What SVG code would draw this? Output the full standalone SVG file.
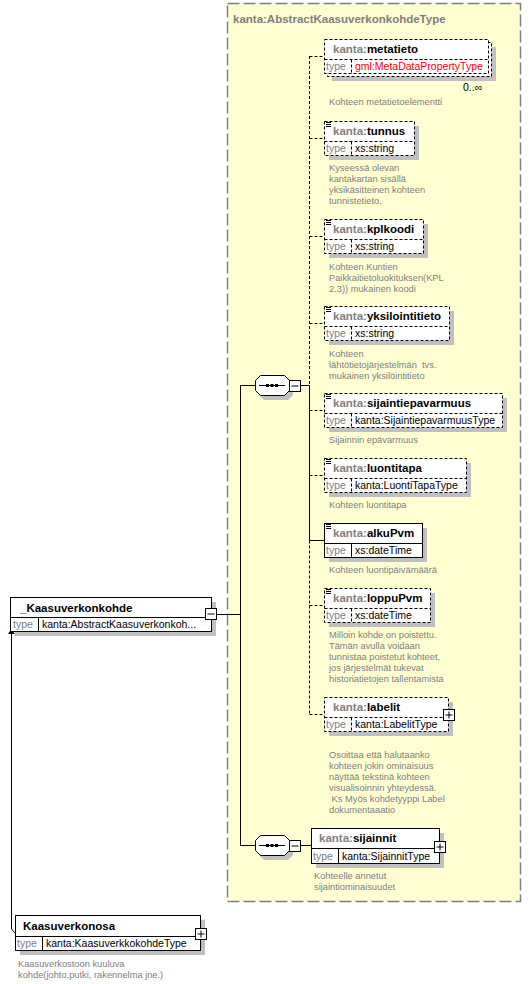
<svg xmlns="http://www.w3.org/2000/svg" width="531" height="984" viewBox="0 0 531 984">
<defs>
<style>
.bx{fill:#fff;stroke:#000;stroke-width:1}
.ds{stroke-dasharray:3,2}
.sh{fill:#c0c0c0}
.ln{stroke:#000;stroke-width:1;fill:none}
.ttl{font-family:"Liberation Sans",Arial,sans-serif;font-size:11.5px;font-weight:bold;fill:#000}
.ns{fill:#808080}
.tp{font-family:"Liberation Sans",Arial,sans-serif;font-size:10.5px;fill:#808080}
.tv{font-family:"Liberation Sans",Arial,sans-serif;font-size:10.5px;fill:#000}
.doc{font-family:"Liberation Sans",Arial,sans-serif;font-size:9.3px;fill:#808080;white-space:pre}
</style>
</defs>
<rect width="531" height="984" fill="#fff"/>

<g id="complexType">
<rect x="227.5" y="3.5" width="293" height="898" fill="#ffffd2" stroke="#808080" stroke-width="1.5" stroke-dasharray="12,4"/>
<text x="233" y="23" class="ttl ns">kanta:AbstractKaasuverkonkohdeType</text>
</g>

<g id="connectors">
<path class="ln" d="M216 614.5H240.5M240.5 385V845.5M240 385.5H255M240 845.5H255M300 385.5H309.5M300 845.5H311"/>
<path class="ln" d="M309.5 56V385.5" stroke-dasharray="3,2"/>
<path class="ln" d="M309.5 385.5V540.5H324"/>
<path class="ln" d="M309.5 540.5V714.5" stroke-dasharray="3,2"/>
<path class="ln" stroke-dasharray="3,2" d="M309.5 56.5H324M309.5 138.5H324M309.5 236.5H324M309.5 323.5H324M309.5 410.5H324M309.5 475.5H324M309.5 605.5H324M309.5 714.5H324"/>
<path class="ln" d="M11.5 634V929L15 933"/>
<polygon points="11.5,629 8,634 15,634" fill="#000"/>
</g>

<g id="Kaasuverkonkohde">
<rect class="sh" x="15" y="602" width="201" height="34"/>
<rect class="bx" x="10.5" y="597.5" width="201" height="34"/>
<path class="ln" d="M10.5 617.5H211.5M38.5 617.5V631.5"/>
<text x="20" y="612" class="ttl">_Kaasuverkonkohde</text>
<text x="13" y="628" class="tp">type</text>
<text x="42" y="628" class="tv">kanta:AbstractKaasuverkonkoh...</text>
<rect class="bx" x="205.5" y="608.5" width="11" height="11"/>
<path class="ln" d="M207.5 614H214.5"/>
</g>

<g id="seq1">
<polygon class="sh" points="264,380 288,380 293,385 293,395 288,400 264,400 259,395 259,385"/>
<polygon class="bx" points="260.5,375.5 284.5,375.5 289.5,380.5 289.5,390.5 284.5,395.5 260.5,395.5 255.5,390.5 255.5,380.5"/>
<path class="ln" d="M259 385.5H285"/>
<rect x="266" y="384" width="3" height="3" fill="#000"/>
<rect x="270.5" y="384" width="3" height="3" fill="#000"/>
<rect x="275" y="384" width="3" height="3" fill="#000"/>
<rect class="bx" x="289.5" y="380.5" width="11" height="11"/>
<path class="ln" d="M291.5 386H298.5"/>
</g>

<g id="seq2">
<polygon class="sh" points="264,840 288,840 293,845 293,855 288,860 264,860 259,855 259,845"/>
<polygon class="bx" points="260.5,835.5 284.5,835.5 289.5,840.5 289.5,850.5 284.5,855.5 260.5,855.5 255.5,850.5 255.5,840.5"/>
<path class="ln" d="M259 845.5H285"/>
<rect x="266" y="844" width="3" height="3" fill="#000"/>
<rect x="270.5" y="844" width="3" height="3" fill="#000"/>
<rect x="275" y="844" width="3" height="3" fill="#000"/>
<rect class="bx" x="289.5" y="840.5" width="11" height="11"/>
<path class="ln" d="M291.5 846H298.5"/>
</g>

<g id="metatieto">
<rect class="sh" x="332" y="47" width="164" height="34"/>
<rect class="bx ds" x="327.5" y="42.5" width="164" height="34"/>
<rect class="bx ds" x="324.5" y="39.5" width="164" height="34"/>
<path class="ln ds" d="M324.5 59.5H488.5M351.5 59.5V73.5"/>
<text x="333" y="53" class="ttl"><tspan class="ns">kanta:</tspan>metatieto</text>
<text x="326" y="70" class="tp">type</text>
<text x="355" y="70" class="tv" fill="#ff0000" style="fill:#ff0000">gml:MetaDataPropertyType</text>
<text x="463" y="91" class="tv">0..∞</text>
<text x="329" y="105" class="doc">Kohteen metatietoelementti</text>
</g>

<g id="tunnus">
<rect class="sh" x="329" y="126" width="90" height="34"/>
<rect class="bx ds" x="324.5" y="121.5" width="90" height="34"/>
<path class="ln ds" d="M324.5 141.5H414.5M351.5 141.5V155.5"/>
<path class="ln" d="M326 122.5H331M326 124.5H331M326 126.5H331"/>
<text x="333" y="135" class="ttl"><tspan class="ns">kanta:</tspan>tunnus</text>
<text x="326" y="152" class="tp">type</text>
<text x="355" y="152" class="tv">xs:string</text>
<text class="doc"><tspan x="329" y="171">Kyseessä olevan</tspan><tspan x="329" y="182">kantakartan sisällä</tspan><tspan x="329" y="193">yksikäsitteinen kohteen</tspan><tspan x="329" y="204">tunnistetieto.</tspan></text>
</g>

<g id="kplkoodi">
<rect class="sh" x="329" y="224" width="99" height="34"/>
<rect class="bx ds" x="324.5" y="219.5" width="99" height="34"/>
<path class="ln ds" d="M324.5 239.5H423.5M351.5 239.5V253.5"/>
<path class="ln" d="M326 220.5H331M326 222.5H331M326 224.5H331"/>
<text x="333" y="233" class="ttl"><tspan class="ns">kanta:</tspan>kplkoodi</text>
<text x="326" y="250" class="tp">type</text>
<text x="355" y="250" class="tv">xs:string</text>
<text class="doc"><tspan x="329" y="270">Kohteen Kuntien</tspan><tspan x="329" y="281">Paikkaitietoluokituksen(KPL</tspan><tspan x="329" y="292">2.3)) mukainen koodi</tspan></text>
</g>

<g id="yksilointitieto">
<rect class="sh" x="329" y="311" width="125" height="34"/>
<rect class="bx ds" x="324.5" y="306.5" width="125" height="34"/>
<path class="ln ds" d="M324.5 326.5H449.5M351.5 326.5V340.5"/>
<path class="ln" d="M326 307.5H331M326 309.5H331M326 311.5H331"/>
<text x="333" y="320" class="ttl"><tspan class="ns">kanta:</tspan>yksilointitieto</text>
<text x="326" y="337" class="tp">type</text>
<text x="355" y="337" class="tv">xs:string</text>
<text class="doc"><tspan x="329" y="357">Kohteen</tspan><tspan x="329" y="368">lähtötietojärjestelmän  tvs.</tspan><tspan x="329" y="379">mukainen yksilöintitieto</tspan></text>
</g>

<g id="sijaintiepavarmuus">
<rect class="sh" x="329" y="398" width="178" height="34"/>
<rect class="bx ds" x="324.5" y="393.5" width="178" height="34"/>
<path class="ln ds" d="M324.5 413.5H502.5M351.5 413.5V427.5"/>
<path class="ln" d="M326 394.5H331M326 396.5H331M326 398.5H331"/>
<text x="333" y="407" class="ttl"><tspan class="ns">kanta:</tspan>sijaintiepavarmuus</text>
<text x="326" y="424" class="tp">type</text>
<text x="355" y="424" class="tv">kanta:SijaintiepavarmuusType</text>
<text x="329" y="443" class="doc">Sijainnin epävarmuus</text>
</g>

<g id="luontitapa">
<rect class="sh" x="329" y="463" width="142" height="34"/>
<rect class="bx ds" x="324.5" y="458.5" width="142" height="34"/>
<path class="ln ds" d="M324.5 478.5H466.5M351.5 478.5V492.5"/>
<path class="ln" d="M326 459.5H331M326 461.5H331M326 463.5H331"/>
<text x="333" y="472" class="ttl"><tspan class="ns">kanta:</tspan>luontitapa</text>
<text x="326" y="489" class="tp">type</text>
<text x="355" y="489" class="tv">kanta:LuontiTapaType</text>
<text x="329" y="508" class="doc">Kohteen luontitapa</text>
</g>

<g id="alkuPvm">
<rect class="sh" x="329" y="528" width="98" height="34"/>
<rect class="bx" x="324.5" y="523.5" width="98" height="34"/>
<path class="ln" d="M324.5 543.5H422.5M351.5 543.5V557.5"/>
<path class="ln" d="M326 524.5H331M326 526.5H331M326 528.5H331"/>
<text x="333" y="537" class="ttl"><tspan class="ns">kanta:</tspan>alkuPvm</text>
<text x="326" y="554" class="tp">type</text>
<text x="355" y="554" class="tv">xs:dateTime</text>
<text x="329" y="573" class="doc">Kohteen luontipäivämäärä</text>
</g>

<g id="loppuPvm">
<rect class="sh" x="329" y="593" width="106" height="34"/>
<rect class="bx ds" x="324.5" y="588.5" width="106" height="34"/>
<path class="ln ds" d="M324.5 608.5H430.5M351.5 608.5V622.5"/>
<path class="ln" d="M326 589.5H331M326 591.5H331M326 593.5H331"/>
<text x="333" y="602" class="ttl"><tspan class="ns">kanta:</tspan>loppuPvm</text>
<text x="326" y="619" class="tp">type</text>
<text x="355" y="619" class="tv">xs:dateTime</text>
<text class="doc"><tspan x="329" y="638">Milloin kohde on poistettu.</tspan><tspan x="329" y="649">Tämän avulla voidaan</tspan><tspan x="329" y="660">tunnistaa poistetut kohteet,</tspan><tspan x="329" y="671">jos järjestelmät tukevat</tspan><tspan x="329" y="682">historiatietojen tallentamista</tspan></text>
</g>

<g id="labelit">
<rect class="sh" x="329" y="702" width="124" height="34"/>
<rect class="bx ds" x="324.5" y="697.5" width="124" height="34"/>
<path class="ln ds" d="M324.5 717.5H448.5M351.5 717.5V731.5"/>
<text x="333" y="711" class="ttl"><tspan class="ns">kanta:</tspan>labelit</text>
<text x="326" y="728" class="tp">type</text>
<text x="355" y="728" class="tv">kanta:LabelitType</text>
<rect class="bx" x="443.5" y="709.5" width="11" height="11"/>
<path class="ln" d="M445.5 715H452.5M449 711.5V718.5"/>
<text class="doc"><tspan x="329" y="758">Osoittaa että halutaanko</tspan><tspan x="329" y="769">kohteen jokin ominaisuus</tspan><tspan x="329" y="780">näyttää tekstinä kohteen</tspan><tspan x="329" y="791">visualisoinnin yhteydessä.</tspan><tspan x="329" y="802"> Ks Myös kohdetyyppi Label</tspan><tspan x="329" y="813">dokumentaaatio</tspan></text>
</g>

<g id="sijainnit">
<rect class="sh" x="316" y="833" width="128" height="35"/>
<rect class="bx" x="311.5" y="828.5" width="128" height="35"/>
<path class="ln" d="M311.5 848.5H439.5M338.5 848.5V863.5"/>
<text x="319" y="842" class="ttl"><tspan class="ns">kanta:</tspan>sijainnit</text>
<text x="313" y="860" class="tp">type</text>
<text x="342" y="860" class="tv">kanta:SijainnitType</text>
<rect class="bx" x="434.5" y="841.5" width="11" height="11"/>
<path class="ln" d="M436.5 847H443.5M440 843.5V850.5"/>
<text class="doc"><tspan x="314" y="879">Kohteelle annetut</tspan><tspan x="314" y="890">sijaintiominaisuudet</tspan></text>
</g>

<g id="Kaasuverkonosa">
<rect class="sh" x="20" y="920" width="185" height="35"/>
<rect class="bx" x="15.5" y="915.5" width="185" height="35"/>
<path class="ln" d="M15.5 936.5H200.5M42.5 936.5V950.5"/>
<text x="23" y="930" class="ttl">Kaasuverkonosa</text>
<text x="17" y="947" class="tp">type</text>
<text x="46" y="947" class="tv">kanta:KaasuverkkokohdeType</text>
<rect class="bx" x="195.5" y="928.5" width="11" height="11"/>
<path class="ln" d="M197.5 934H204.5M201 930.5V937.5"/>
<text class="doc"><tspan x="18" y="967">Kaasuverkostoon kuuluva</tspan><tspan x="18" y="978">kohde(johto,putki, rakennelma jne.)</tspan></text>
</g>
</svg>
